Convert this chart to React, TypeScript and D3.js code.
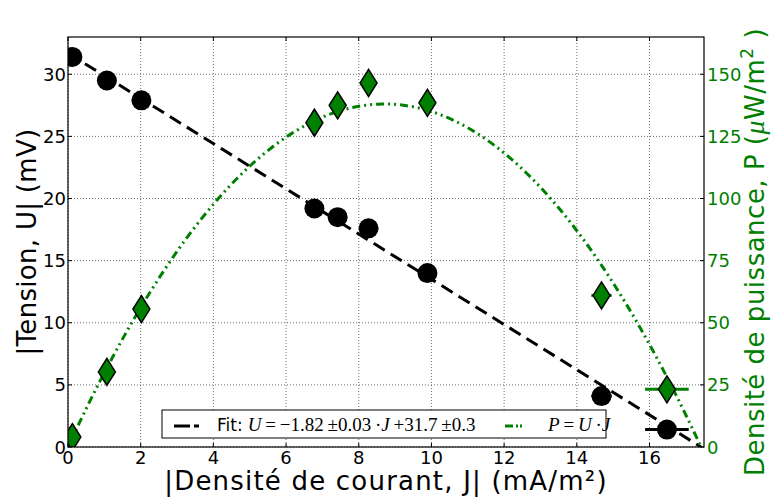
import React from "react";
import * as d3 from "d3";

const J = [0.12, 1.07, 2.02, 6.78, 7.42, 8.27, 9.89, 14.68, 16.48];
const U = [31.4, 29.5, 27.9, 19.2, 18.5, 17.6, 14.0, 4.1, 1.4];
const P = [4.0, 30.2, 55.5, 130.5, 137.5, 146.5, 138.5, 61.0, 23.2];
const Jerr = [0.05, 0.05, 0.05, 0.1, 0.1, 0.1, 0.15, 0.28, 0.6];
const fitSlope = -1.82;
const fitIntercept = 31.7;
const xTicks = [0, 2, 4, 6, 8, 10, 12, 14, 16];
const yTicks = [0, 5, 10, 15, 20, 25, 30];
const y2Ticks = [0, 25, 50, 75, 100, 125, 150];

const W = 772;
const H = 497;
const L = 68, R = 704, T = 37, B = 447;
const GREEN = "#008000";
const SANS = "'DejaVu Sans', sans-serif";
const SERIF = "'Liberation Serif', 'DejaVu Serif', serif";

export default function App() {
  const x = d3.scaleLinear().domain([0, 17.5]).range([L, R]);
  const yL = d3.scaleLinear().domain([0, 33]).range([B, T]);
  const yR = d3.scaleLinear().domain([0, 165]).range([B, T]);

  const jEnd = -fitIntercept / fitSlope;
  const fitLine = d3.line<number>().x((j) => x(j)).y((j) => yL(fitIntercept + fitSlope * j));
  const nS = 200;
  const js = d3.range(nS + 1).map((i) => (jEnd * i) / nS);
  const pLine = d3
    .line<number>()
    .x((j) => x(j))
    .y((j) => yR(j * (fitIntercept + fitSlope * j)));

  const diamond = (cx: number, cy: number) =>
    `M${cx},${cy - 13.5} L${cx + 8.5},${cy} L${cx},${cy + 13.5} L${cx - 8.5},${cy} Z`;

  return (
    <svg
      width={W}
      height={H}
      style={{ position: "absolute", left: 0, top: 0, background: "white" }}
      fontFamily={SANS}
    >
      <defs>
        <clipPath id="plot">
          <rect x={L} y={T} width={R - L} height={B - T} />
        </clipPath>
      </defs>
      <rect x={0} y={0} width={W} height={H} fill="white" />
      {/* grid */}
      <g stroke="#000" strokeWidth={0.7} strokeDasharray="1,2" opacity={0.8}>
        {xTicks.map((t) => (
          <line key={"gx" + t} x1={x(t)} x2={x(t)} y1={T} y2={B} />
        ))}
        {yTicks.map((t) => (
          <line key={"gy" + t} x1={L} x2={R} y1={yL(t)} y2={yL(t)} />
        ))}
      </g>
      {/* ticks */}
      <g stroke="#000" strokeWidth={1}>
        {xTicks.map((t) => (
          <g key={"tx" + t}>
            <line x1={x(t)} x2={x(t)} y1={B} y2={B - 4} />
            <line x1={x(t)} x2={x(t)} y1={T} y2={T + 4} />
          </g>
        ))}
        {yTicks.map((t) => (
          <line key={"ty" + t} x1={L} x2={L + 4} y1={yL(t)} y2={yL(t)} />
        ))}
        {y2Ticks.map((t) => (
          <line key={"ty2" + t} x1={R} x2={R - 4} y1={yR(t)} y2={yR(t)} />
        ))}
      </g>
      <g clipPath="url(#plot)">
        {/* fit line */}
        <path
          d={fitLine([0, jEnd]) || ""}
          fill="none"
          stroke="#000"
          strokeWidth={3}
          strokeDasharray="13,7"
        />
        {/* U error bars and markers */}
        {J.map((j, i) => (
          <line
            key={"eu" + i}
            x1={x(j - Jerr[i])}
            x2={x(j + Jerr[i])}
            y1={yL(U[i])}
            y2={yL(U[i])}
            stroke="#000"
            strokeWidth={3}
          />
        ))}
        {J.map((j, i) => (
          <circle key={"cu" + i} cx={x(j)} cy={yL(U[i])} r={10} fill="#000" />
        ))}
        {/* power curve */}
        <path
          d={pLine(js) || ""}
          fill="none"
          stroke={GREEN}
          strokeWidth={3}
          strokeDasharray="8,4,2,4,2,4"
        />
        {J.map((j, i) => (
          <line
            key={"ep" + i}
            x1={x(j - Jerr[i])}
            x2={x(j + Jerr[i])}
            y1={yR(P[i])}
            y2={yR(P[i])}
            stroke={GREEN}
            strokeWidth={3}
          />
        ))}
        {J.map((j, i) => (
          <path
            key={"dp" + i}
            d={diamond(x(j), yR(P[i]))}
            fill={GREEN}
            stroke="#000"
            strokeWidth={1.5}
          />
        ))}
      </g>
      {/* frame */}
      <rect x={L} y={T} width={R - L} height={B - T} fill="none" stroke="#000" strokeWidth={1.2} />
      {/* tick labels */}
      <g fontSize={18} fill="#000">
        {xTicks.map((t) => (
          <text key={"lx" + t} x={x(t)} y={B + 17} textAnchor="middle">
            {t}
          </text>
        ))}
        {yTicks.map((t) => (
          <text key={"ly" + t} x={L - 2} y={yL(t) + 6.5} textAnchor="end">
            {t}
          </text>
        ))}
      </g>
      <g fontSize={18} fill={GREEN}>
        {y2Ticks.map((t) => (
          <text key={"lr" + t} x={R + 3} y={yR(t) + 6.5} textAnchor="start">
            {t}
          </text>
        ))}
      </g>
      {/* axis labels */}
      <text
        x={(L + R) / 2}
        y={490}
        fontSize={26}
        letterSpacing={1.2}
        textAnchor="middle"
        fill="#000"
      >
        |Densité de courant, J| (mA/m²)
      </text>
      <text
        transform={`translate(36,${(T + B) / 2}) rotate(-90)`}
        fontSize={26}
        letterSpacing={0.3}
        textAnchor="middle"
        fill="#000"
      >
        |Tension, U| (mV)
      </text>
      <text
        transform={`translate(764,${(T + B) / 2 + 10}) rotate(-90)`}
        fontSize={26}
        letterSpacing={0.5}
        textAnchor="middle"
        fill={GREEN}
      >
        Densité de puissance, P (
        <tspan fontFamily={SERIF} fontStyle="italic" fontSize={28}>μ</tspan>W/m
        <tspan fontSize={17} dy={-11}>2</tspan>
        <tspan dy={11}> )</tspan>
      </text>
      {/* legend */}
      <g>
        <rect x={162} y={410} width={444} height={28} fill="white" stroke="#000" strokeWidth={1} />
        <line x1={174} x2={190} y1={426} y2={426} stroke="#000" strokeWidth={3} />
        <line x1={194} x2={199} y1={426} y2={426} stroke="#000" strokeWidth={3} />
        <text x={217} y={431} fontSize={17} fill="#000">
          Fit:
          <tspan dx={5} fontFamily={SERIF} fontStyle="italic" fontSize={19}>U</tspan>
          <tspan fontFamily={SERIF} fontSize={19}>{"\u2009=\u2009−1.82\u2009±0.03\u2009·"}</tspan>
          <tspan fontFamily={SERIF} fontStyle="italic" fontSize={19}>J</tspan>
          <tspan fontFamily={SERIF} fontSize={19}>{"\u2009+31.7\u2009±0.3"}</tspan>
        </text>
        <line x1={505} x2={513} y1={426} y2={426} stroke={GREEN} strokeWidth={3} />
        <line x1={516} x2={518} y1={426} y2={426} stroke={GREEN} strokeWidth={3} />
        <line x1={520} x2={522} y1={426} y2={426} stroke={GREEN} strokeWidth={3} />
        <text x={548} y={431} fontSize={19} fill="#000" fontFamily={SERIF}>
          <tspan fontStyle="italic">P</tspan>
          {"\u2009=\u2009"}
          <tspan fontStyle="italic">U</tspan>
          {"\u2009·"}
          <tspan fontStyle="italic">J</tspan>
        </text>
      </g>
    </svg>
  );
}
